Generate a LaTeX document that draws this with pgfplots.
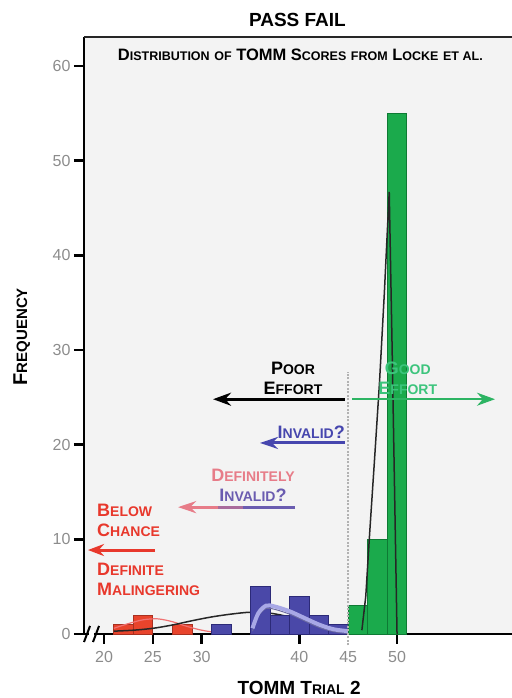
\documentclass[border=0pt]{standalone}
\usepackage{pgfplots}
\pgfplotsset{compat=1.18}
\usepackage{fontspec}
\setmainfont{Liberation Sans}
\usetikzlibrary{arrows.meta}
\definecolor{bgc}{HTML}{F3F3F3}
\definecolor{redf}{HTML}{E8442C}
\definecolor{redd}{HTML}{A83020}
\definecolor{bluef}{HTML}{4A48A8}
\definecolor{blued}{HTML}{2C2A78}
\definecolor{greenf}{HTML}{1BAA4C}
\definecolor{greend}{HTML}{0E7A34}
\definecolor{lav}{HTML}{A8A8E6}
\definecolor{redc}{HTML}{F07272}
\definecolor{tickc}{HTML}{8C8C8C}
\definecolor{arrblue}{HTML}{4646AE}
\definecolor{arrgreen}{HTML}{2DB463}
\definecolor{txtgreen}{HTML}{3CC47C}
\definecolor{pinkc}{HTML}{E77C88}
\definecolor{purc}{HTML}{6A5CB0}
\definecolor{arrred}{HTML}{E8382C}
\newcommand\scs{14}
\newcommand\scx[2]{#1{\fontsize{\scs}{\scs}\selectfont #2}}
\newcommand\sml[1]{{\fontsize{\scs}{\scs}\selectfont #1}}
\begin{document}
\begin{tikzpicture}
\begin{axis}[scale only axis, width=428pt, height=597pt,
 xmin=17.95, xmax=61.77, ymin=0, ymax=63.06,
 axis x line*=bottom, axis y line*=left,
 axis line style={line width=2.5pt, black},
 axis background/.style={fill=bgc},
 xtick={20,25,30,40,50}, extra x ticks={45}, extra x tick style={major tick style={draw=none}},
 ytick={0,10,...,60},
 tick align=outside, major tick length=10pt, tick style={line width=2.5pt, black},
 ticklabel style={font=\fontsize{16}{16}\selectfont, text=tickc},
 xticklabel style={yshift=-4pt},
 /pgf/number format/assume math mode=true,
 clip=false]
\coordinate (sw) at (rel axis cs:0,0);
\coordinate (ne) at (rel axis cs:1,1);
\draw[line width=2.5pt, black!85] (rel axis cs:0,1) -- (rel axis cs:1,1);
% red bars
\addplot[ybar interval, fill=redf, draw=redd, line width=0.8pt] coordinates {(21,1)(23,2)(25,2)};
\addplot[ybar interval, fill=redf, draw=redd, line width=0.8pt] coordinates {(27,1)(29,1)};
\addplot[smooth, redc, line width=1.2pt] coordinates {(21,0.6)(22.5,1.1)(24,1.5)(25.5,1.6)(27,1.3)(28.5,0.8)(30,0.4)(31.5,0.15)};
\addplot[smooth, black!85, line width=1.5pt] coordinates {(21,0.3)(23,0.4)(25,0.6)(27,0.95)(29,1.4)(31,1.8)(33,2.1)(35,2.3)(37,2.2)(39,1.8)(41,1.2)(43,0.6)(45,0.3)};
% blue bars
\addplot[ybar interval, fill=bluef, draw=blued, line width=0.8pt] coordinates {(31,1)(33,1)};
\addplot[ybar interval, fill=bluef, draw=blued, line width=0.8pt] coordinates {(35,5)(37,2)(39,4)(41,2)(43,1)(45,1)};
\addplot[smooth, blued!70, line width=1pt] coordinates {(35.2,0.3)(35.8,1.9)(36.6,2.7)(37.5,2.6)(39,2.1)(40.5,1.4)(42,0.7)(43.5,0.25)(45,0.05)};
\addplot[smooth, lav, line width=4pt] coordinates {(35.2,0.6)(35.8,2.2)(36.6,3.0)(37.5,2.9)(39,2.4)(40.5,1.7)(42,1.0)(43.5,0.5)(45,0.3)};
% green bars
\addplot[ybar interval, fill=greenf, draw=greend, line width=0.8pt] coordinates {(45,3)(47,10)(49,55)(51,55)};
\addplot[black!85, line width=1.5pt] coordinates {(46.4,0.4)(46.8,4)(47.2,10.7)(47.7,18.5)(48.2,26.5)(48.7,36)(49.2,46.7)(49.5,30)(49.8,12)(50,0)};
% dashed separator
\draw[black!30, line width=1.8pt, dash pattern=on 2pt off 1.5pt] (axis cs:45,-1.2) -- (axis cs:45,27.7);
% arrows
\draw[black, line width=3pt, -{Stealth[length=18pt,width=13pt]}] (axis cs:44.67,24.8) -- (axis cs:31.16,24.8);
\draw[arrgreen, line width=2pt, -{Stealth[length=18pt,width=13pt]}] (axis cs:45.39,24.8) -- (axis cs:60.03,24.8);
\draw[arrblue, line width=3pt, -{Stealth[length=18pt,width=12pt]}] (axis cs:44.67,20.18) -- (axis cs:35.97,20.18);
\draw[purc, line width=3pt] (axis cs:39.56,13.4) -- (axis cs:34,13.4);
\draw[purc!50!pinkc, line width=3pt] (axis cs:34.2,13.4) -- (axis cs:31.5,13.4);
\draw[pinkc, line width=3pt, -{Stealth[length=18pt,width=12pt]}] (axis cs:31.7,13.4) -- (axis cs:27.58,13.4);
\draw[arrred, line width=3pt, -{Stealth[length=16pt,width=12pt]}] (axis cs:25.22,8.87) -- (axis cs:18.36,8.87);
% texts
\begin{scope}[every node/.style={font=\bfseries\fontsize{18}{18}\selectfont, inner sep=0pt}]
\node[anchor=base] at (axis cs:39.35,27.36) {\scx{P}{OOR}};
\node[anchor=base] at (axis cs:39.35,25.25) {\scx{E}{FFORT}};
\node[anchor=base, text=txtgreen] at (axis cs:51.1,27.36) {\scx{G}{OOD}};
\node[anchor=base, text=txtgreen] at (axis cs:51.1,25.25) {\scx{E}{FFORT}};
\node[anchor=base east, text=arrblue] at (axis cs:44.67,20.7) {\scx{I}{NVALID}?};
\node[anchor=base, text=pinkc] at (axis cs:35.25,16.06) {\scx{D}{EFINITELY}};
\node[anchor=base, text=purc] at (axis cs:35.25,13.97) {\scx{I}{NVALID}?};
\node[anchor=base west, text=arrred] at (axis cs:19.28,12.36) {\scx{B}{ELOW}};
\node[anchor=base west, text=arrred] at (axis cs:19.28,10.25) {\scx{C}{HANCE}};
\node[anchor=base west, text=arrred] at (axis cs:19.28,6.13) {\scx{D}{EFINITE}};
\node[anchor=base west, text=arrred] at (axis cs:19.28,4.1) {\scx{M}{ALINGERING}};
\node[anchor=base, font=\bfseries\fontsize{16.5}{16.5}\selectfont] at (axis cs:40.1,60.56) {\renewcommand\scs{12.5}\scx{D}{ISTRIBUTION} \sml{OF} TOMM \scx{S}{CORES} \sml{FROM} \scx{L}{OCKE} \sml{ET AL.}};
\node[anchor=base, font=\bfseries\fontsize{19}{19}\selectfont] at (axis cs:39.8,64.12) {PASS FAIL};
\node[anchor=base, font=\bfseries\fontsize{19}{19}\selectfont] at (axis cs:39.97,-6.44) {\renewcommand\scs{14}TOMM \scx{T}{RIAL} 2};
\node[anchor=base, rotate=90, font=\bfseries\fontsize{20}{20}\selectfont] at (axis cs:12.12,31.4) {\renewcommand\scs{15}\scx{F}{REQUENCY}};
\end{scope}
% axis break
\fill[white] (axis cs:18.5,-0.4) rectangle (axis cs:18.95,0.4);
\draw[black, line width=2pt] (axis cs:17.95,-0.85) -- (axis cs:18.57,0.85);
\draw[black, line width=2pt] (axis cs:18.87,-0.85) -- (axis cs:19.49,0.85);
\end{axis}
\pgfresetboundingbox
\path[use as bounding box] ([xshift=-84pt,yshift=-64pt]sw) rectangle ([yshift=37pt]ne);
\end{tikzpicture}
\end{document}
